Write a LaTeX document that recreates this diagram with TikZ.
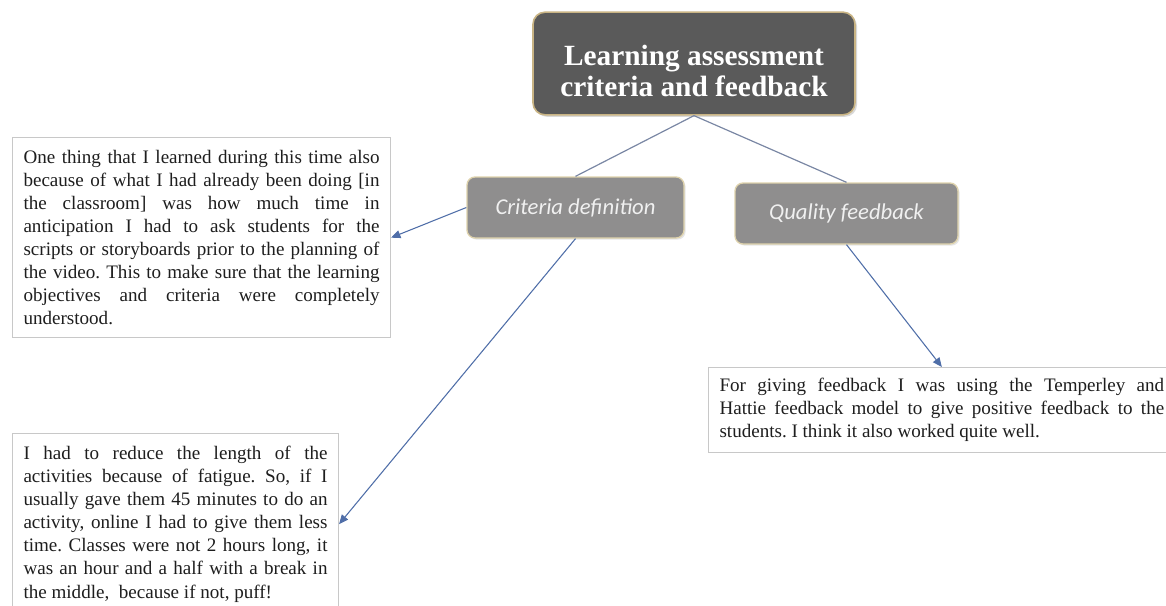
\documentclass[tikz,border=0pt]{standalone}
\usepackage{fontspec}
\setmainfont{Liberation Serif}
\newfontfamily\topicfont{Carlito}
\usetikzlibrary{arrows.meta,shadows}
\hyphenpenalty=10000
\tolerance=10000
\frenchspacing

\definecolor{headgray}{HTML}{5A5A5A}
\definecolor{headrim}{HTML}{C9B484}
\definecolor{topicgray}{HTML}{8F8E8E}
\definecolor{topicrim}{HTML}{DED2AC}
\definecolor{linkgray}{HTML}{7A87A4}
\definecolor{pointblue}{HTML}{4F6EA8}
\definecolor{quoterim}{HTML}{C8C8C8}
\definecolor{quoteink}{HTML}{1E1E1E}

\tikzstyle{headbox} = [rectangle, rounded corners=9pt, fill=headgray, draw=headrim, line width=1.2pt, text=white, align=center, minimum width=241.5pt, minimum height=77pt, font=\fontsize{22}{23}\selectfont\bfseries, drop shadow={opacity=0.3, shadow xshift=1.5pt, shadow yshift=-1.5pt}]
\tikzstyle{topicbox} = [rectangle, rounded corners=6pt, fill=topicgray, draw=topicrim, line width=1pt, text=white!94!black, minimum height=45.75pt, font=\topicfont\itshape\fontsize{17}{18}\selectfont, drop shadow={opacity=0.2, shadow xshift=1.2pt, shadow yshift=-1.2pt}]
\tikzstyle{quotebox} = [rectangle, draw=quoterim, line width=0.8pt, anchor=north west, inner xsep=8.25pt, inner ysep=9.5pt, align=justify, text=quoteink, font=\fontsize{14.3}{17.3}\selectfont]
\tikzstyle{link} = [draw=linkgray, line width=0.9pt]
\tikzstyle{pointer} = [draw=pointblue, line width=0.8pt, -{Triangle[length=7pt,width=6pt]}]

\begin{document}
\begin{tikzpicture}[x=0.75pt,y=-0.75pt]
        \useasboundingbox (0,0) rectangle (1166,606);
        % Main topic and its two sub-topics
        \node (head) at (694,63.5) [headbox] {\rule{0pt}{26pt}Learning assessment\\criteria and feedback};
        \node (crit) at (575.5,207.5) [topicbox, minimum width=162.75pt] {Criteria definition};
        \node (qual) at (846.5,213.5) [topicbox, minimum width=167.25pt] {Quality feedback};
        % Quotes
        \node (q1) at (12,137) [quotebox, text width=267pt] {One thing that I learned during this time also\linebreak because of what I had already been doing [in\linebreak the classroom] was how much time in\linebreak anticipation I had to ask students for the\linebreak scripts or storyboards prior to the planning of\linebreak the video. This to make sure that the learning\linebreak objectives and criteria were completely\linebreak understood.};
        \node (q2) at (12,433) [quotebox, text width=228pt] {I had to reduce the length of the\linebreak activities because of fatigue. So, if I\linebreak usually gave them 45 minutes to do an\linebreak activity, online I had to give them less\linebreak time. Classes were not 2 hours long, it\linebreak was an hour and a half with a break in\linebreak the middle, \ because if not, puff!};
        \node (q3) at (708,367) [quotebox, inner ysep=8pt, text width=333.5pt] {For giving feedback I was using the Temperley and\linebreak Hattie feedback model to give positive feedback to the\linebreak students. I think it also worked quite well.};
        % Connectors
        \draw[link] (head.south) -- (crit.north);
        \draw[link] (head.south) -- (qual.north);
        \draw[pointer] (crit.west) -- (q1.east);
        \draw[pointer] (crit.south) -- (q2.east);
        \draw[pointer] (qual.south) -- (q3.north);
    \end{tikzpicture}
\end{document}
